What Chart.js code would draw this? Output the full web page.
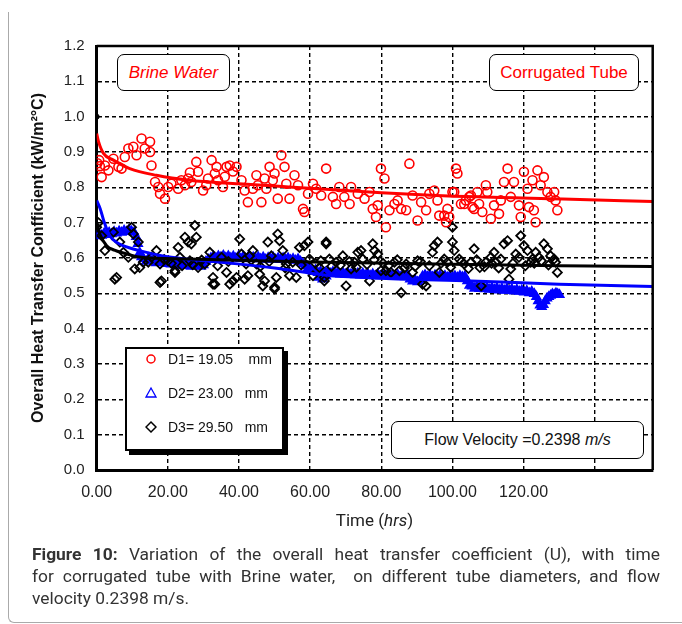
<!DOCTYPE html>
<html>
<head>
<meta charset="utf-8">
<script src="https://cdn.jsdelivr.net/npm/chart.js@4.4.1/dist/chart.umd.min.js"></script>
<style>
  html, body { margin:0; padding:0; background:#fff; }
  #wrap { position:relative; width:682px; height:624px; overflow:hidden; font-family:"Liberation Sans", Arial, sans-serif; }
  canvas { position:absolute; left:0; top:0; }
  .box { position:absolute; background:#fff; border:1.5px solid #000; border-radius:7px; box-sizing:border-box; display:flex; align-items:center; justify-content:center; white-space:nowrap; }
  #frame { position:absolute; left:8px; top:12px; width:760px; height:610px; border-left:1px solid #aaa; border-bottom:1px solid #aaa; border-bottom-left-radius:6px; }
  #legend { position:absolute; left:125px; top:347px; width:159px; height:104px; background:#fff; border:2px solid #000; box-sizing:border-box; box-shadow:4px 4px 0 #000; font-size:14px; color:#111; }
  .lg { position:absolute; left:0; width:100%; height:18px; }
  .lg svg { position:absolute; left:18px; top:1px; }
  .lg span { position:absolute; left:41px; top:0; white-space:pre; }
  #xtitle { position:absolute; left:0; width:749px; top:510px; text-align:center; font-family:Roboto,sans-serif; font-size:17px; color:#222; }
  .cap { position:absolute; left:32px; width:628px; font-family:Roboto,sans-serif; font-size:17.4px; color:#333; text-align:justify; text-align-last:justify; white-space:nowrap; }
</style>
</head>
<body>
<div id="wrap">
  <div id="frame"></div>
  <canvas id="c" width="682" height="624"></canvas>
  <div class="box" style="left:117px;top:54px;width:113px;height:37px;color:#f00;font-style:italic;font-size:17px;">Brine Water</div>
  <div class="box" style="left:489px;top:54px;width:150px;height:37px;color:#f00;font-size:17px;">Corrugated Tube</div>
  <div class="box" style="left:391px;top:421px;width:253px;height:38px;color:#111;font-size:16px;">Flow Velocity =0.2398&nbsp;<i>m/s</i></div>
  <div id="legend">
    <div class="lg" style="top:2px"><svg width="12" height="14"><circle cx="6" cy="7" r="4" fill="none" stroke="#f00" stroke-width="1.5"/></svg><span>D1= 19.05    mm</span></div>
    <div class="lg" style="top:36px"><svg width="12" height="14"><polygon points="6,2 11,11 1,11" fill="none" stroke="#00f" stroke-width="1.3"/></svg><span>D2= 23.00   mm</span></div>
    <div class="lg" style="top:70px"><svg width="12" height="14"><polygon points="6,2 11,7 6,12 1,7" fill="none" stroke="#000" stroke-width="1.5"/></svg><span>D3= 29.50   mm</span></div>
  </div>
  <div id="xtitle">Time (<i>hrs</i>)</div>
  <div class="cap" style="top:544px"><b>Figure 10:</b> Variation of the overall heat transfer coefficient (U), with time</div>
  <div class="cap" style="top:566px">for corrugated tube with Brine water,&nbsp; on different tube diameters, and flow</div>
  <div class="cap" style="top:588px;text-align-last:left;">velocity 0.2398 m/s.</div>
</div>
<script>
// ---------- DATA (time in hrs, U in kW/m2°C) ----------
const xTickValues = [0, 20, 40, 60, 80, 100, 120];
const yTickStep = 0.1;

// D1 = 19.05 mm (red circles)
const d1Points = [
[0.2,0.868],[0.7,0.877],[0.9,0.860],[1.4,0.829],[2.3,0.862],[3.3,0.848],[4.7,0.881],[6.1,0.858],[7.0,0.853],[7.9,0.886],
[8.9,0.910],[10.3,0.915],[11.2,0.891],[12.6,0.938],[13.5,0.910],[15.0,0.929],[15.0,0.900],[15.4,0.862],[16.4,0.815],[17.3,0.801],
[17.8,0.782],[19.2,0.768],[20.1,0.801],[21.0,0.810],[22.9,0.796],[23.8,0.820],[24.8,0.806],[25.7,0.825],[26.2,0.842],[26.6,0.815],
[28.0,0.872],[28.5,0.844],[29.9,0.791],[30.8,0.806],[31.3,0.825],[32.3,0.877],[33.2,0.839],[33.7,0.858],[34.1,0.820],[35.5,0.801],
[36.0,0.830],[36.5,0.858],[37.4,0.862],[38.3,0.845],[39.3,0.858],[40.7,0.820],[41.6,0.791],[42.5,0.758],[43.9,0.796],[44.9,0.834],
[45.3,0.806],[46.3,0.758],[47.2,0.825],[47.7,0.796],[48.6,0.858],[49.5,0.820],[50.0,0.839],[50.9,0.768],[51.9,0.891],[52.8,0.858],
[53.3,0.810],[54.2,0.768],[55.6,0.834],[56.6,0.806],[58.0,0.739],[58.4,0.730],[59.4,0.782],[60.8,0.810],[61.7,0.796],[63.1,0.777],
[64.5,0.853],[66.4,0.773],[67.3,0.753],[68.2,0.801],[69.6,0.773],[71.1,0.753],[71.5,0.801],[73.4,0.782],[75.3,0.768],[76.7,0.787],
[77.6,0.739],[78.5,0.716],[79.0,0.749],[79.9,0.853],[80.9,0.825],[81.3,0.687],[82.3,0.735],[83.7,0.753],[84.6,0.763],[85.6,0.739],
[87.0,0.735],[87.9,0.867],[88.8,0.777],[90.2,0.706],[91.2,0.758],[92.6,0.735],[93.5,0.782],[94.9,0.791],[95.8,0.763],[96.3,0.720],
[97.7,0.720],[98.2,0.701],[98.6,0.739],[99.1,0.716],[100.0,0.787],[100.5,0.787],[101.0,0.853],[101.4,0.839],[102.4,0.753],[103.3,0.753],
[103.8,0.763],[104.7,0.773],[105.2,0.777],[105.6,0.744],[106.1,0.739],[107.0,0.787],[107.5,0.753],[108.4,0.730],[109.4,0.806],[109.8,0.787],
[110.8,0.711],[111.7,0.749],[113.1,0.725],[113.6,0.763],[114.5,0.815],[115.5,0.853],[116.4,0.773],[117.3,0.815],[118.7,0.749],[119.2,0.716],
[120.1,0.844],[121.1,0.796],[121.5,0.744],[122.5,0.820],[122.9,0.735],[123.4,0.701],[123.9,0.848],[124.8,0.806],[125.7,0.829],[126.7,0.787],
[127.6,0.773],[128.6,0.787],[129.0,0.763],[129.5,0.735]
];

// D2 = 23.00 mm (blue triangles, dense band)
const d2Points = [
[0,0.662],[0.7,0.668],[1.4,0.664],[2.1,0.670],[2.8,0.666],[3.5,0.672],[4.2,0.668],[4.9,0.674],[5.6,0.670],[6.3,0.676],
[7,0.672],[7.7,0.678],[8.4,0.674],[9.1,0.680],[9.8,0.676],[10.5,0.672],[11.1,0.660],[11.6,0.640],[12.1,0.615],[12.6,0.603],
[13.2,0.598],[13.9,0.590],[14.6,0.600],[15.3,0.592],[16,0.596],[16.7,0.586],[17.4,0.594],[18.1,0.588],[18.8,0.592],[19.5,0.584],
[20.2,0.590],[20.9,0.582],[21.6,0.588],[22.3,0.580],[23,0.586],[23.7,0.578],[24.4,0.584],[25.1,0.578],[25.8,0.583],[26.5,0.576],
[27.2,0.582],[27.9,0.577],[28.6,0.581],[29.3,0.576],[30,0.580],[30.7,0.590],[31.4,0.596],[32.1,0.600],[32.8,0.604],[33.5,0.600],
[34.2,0.606],[34.9,0.602],[35.6,0.607],[36.3,0.601],[37,0.606],[37.7,0.600],[38.4,0.605],[39.1,0.599],[39.8,0.604],[40.5,0.598],
[41.2,0.604],[41.9,0.598],[42.6,0.603],[43.3,0.597],[44,0.602],[44.7,0.598],[45.4,0.603],[46.1,0.597],[46.8,0.602],[47.5,0.596],
[48.2,0.601],[48.9,0.597],[49.6,0.602],[50.3,0.596],[51,0.600],[51.7,0.595],[52.4,0.600],[53.1,0.596],[53.8,0.600],[54.5,0.594],
[55.2,0.598],[55.9,0.593],[56.6,0.597],[57.3,0.590],[58,0.584],[58.7,0.578],[59.4,0.572],[60.1,0.568],[60.8,0.562],[61.5,0.566],
[62.2,0.558],[62.5,0.545],[62.9,0.562],[63.5,0.540],[63.6,0.556],[64.3,0.560],[64.5,0.548],[65,0.562],[65.7,0.556],[66.4,0.561],
[67.1,0.555],[67.8,0.560],[68.5,0.554],[69.2,0.559],[69.9,0.553],[70.6,0.558],[71.3,0.553],[72,0.558],[72.7,0.552],[73.4,0.557],
[74.1,0.551],[74.8,0.557],[75.5,0.551],[76.2,0.556],[76.9,0.550],[77.6,0.555],[78.3,0.550],[79,0.555],[79.7,0.549],[80.4,0.554],
[81.1,0.549],[81.8,0.554],[82.5,0.548],[83.2,0.553],[83.9,0.548],[84.6,0.553],[85.3,0.547],[86,0.552],[86.7,0.546],[87.4,0.552],
[88.1,0.540],[88.8,0.534],[89.5,0.538],[90.2,0.532],[90.9,0.536],[91.6,0.548],[92.3,0.552],[93,0.547],[93.7,0.552],[94.4,0.546],
[95.1,0.551],[95.8,0.546],[96.5,0.551],[97.2,0.545],[97.9,0.550],[98.6,0.545],[99.3,0.550],[100,0.544],[100.7,0.549],[101.4,0.545],
[102.1,0.550],[102.8,0.546],[103.5,0.548],[104.2,0.535],[104.8,0.522],[105.5,0.520],[106.2,0.514],[106.9,0.519],[107.6,0.513],[108.3,0.518],
[109,0.512],[109.7,0.517],[110.4,0.511],[111.1,0.516],[111.8,0.510],[112.5,0.515],[113.2,0.509],[113.9,0.514],[114.6,0.508],[115.3,0.513],
[116,0.507],[116.7,0.512],[117.4,0.506],[118.1,0.511],[118.8,0.505],[119.5,0.509],[120.2,0.503],[120.9,0.507],[121.6,0.501],[122.3,0.505],
[123,0.499],[123.6,0.490],[124.1,0.478],[124.6,0.466],[125.1,0.462],[125.6,0.468],[126.1,0.478],[126.6,0.486],[127.1,0.490],[127.6,0.494],
[128.1,0.498],[128.6,0.496],[129.1,0.500],[129.6,0.498],[130.1,0.496]
];

// D3 = 29.50 mm (black diamonds)
const d3Points = [
[0,0.687],[0.5,0.700],[1.4,0.663],[2.3,0.621],[4.7,0.673],[5.1,0.540],[5.6,0.545],[6.5,0.645],[7.5,0.616],[8.9,0.602],
[9.8,0.687],[10.3,0.668],[10.7,0.569],[11.7,0.645],[12.1,0.573],[13.1,0.588],[14.5,0.588],[15.4,0.602],[16.8,0.621],[17.8,0.583],
[17.8,0.531],[18.2,0.535],[19,0.596],[20.1,0.592],[21,0.585],[22.0,0.564],[22.0,0.559],[22.9,0.630],[23.4,0.602],[24,0.578],
[24.8,0.659],[25.7,0.645],[26.2,0.592],[26.6,0.640],[27,0.581],[27.6,0.692],[28.0,0.659],[28.5,0.573],[29.5,0.594],[30.4,0.583],
[31.8,0.616],[32.7,0.545],[32.7,0.526],[33.2,0.526],[34,0.578],[35.1,0.602],[36.5,0.559],[37,0.590],[37.4,0.526],[38.3,0.535],
[39.3,0.545],[40.2,0.654],[40.7,0.611],[41.6,0.540],[42,0.583],[42.5,0.550],[43.0,0.606],[43.9,0.621],[44.9,0.583],[45.8,0.554],
[46,0.576],[46.7,0.521],[47.2,0.535],[48.1,0.645],[48.5,0.590],[49.1,0.606],[50.0,0.512],[50.0,0.517],[50.5,0.545],[50.9,0.668],
[51.4,0.649],[52.3,0.621],[53,0.572],[53.3,0.583],[54.2,0.550],[55.1,0.588],[56.1,0.545],[57.0,0.630],[57.5,0.580],[58.4,0.635],
[59.4,0.645],[59.8,0.597],[60.8,0.550],[61.5,0.585],[62.6,0.573],[63,0.592],[64.0,0.545],[64.0,0.535],[64.5,0.640],[64.5,0.645],
[65.4,0.597],[66,0.576],[67.3,0.588],[68.5,0.580],[69.2,0.606],[70.1,0.521],[71,0.590],[71.5,0.569],[72.5,0.588],[73,0.574],
[73.4,0.616],[74.3,0.621],[74.8,0.597],[76,0.582],[76.7,0.535],[77.6,0.640],[78,0.595],[78.1,0.621],[79.0,0.611],[79.9,0.564],
[80.5,0.585],[81.3,0.564],[82,0.578],[82.7,0.559],[83.7,0.588],[84.5,0.595],[85.1,0.564],[85.6,0.502],[86.5,0.572],[87.0,0.583],
[88.8,0.559],[89.5,0.576],[90.2,0.592],[91,0.590],[91.6,0.526],[92.6,0.521],[93.5,0.578],[94.4,0.616],[94.9,0.635],[95.8,0.645],
[96.3,0.559],[96.8,0.585],[97.7,0.597],[98.6,0.588],[99.5,0.574],[100.0,0.687],[100.0,0.645],[100.5,0.621],[101.9,0.597],[102.5,0.590],
[103.3,0.583],[104.5,0.570],[105.2,0.588],[106.1,0.626],[106.8,0.595],[107.7,0.573],[108.1,0.521],[109,0.575],[109.4,0.588],[110.8,0.602],
[111,0.585],[111.7,0.616],[112.2,0.588],[113,0.572],[113.6,0.597],[114.5,0.640],[115.5,0.649],[115.9,0.540],[116.4,0.569],[117,0.585],
[117.8,0.611],[118.7,0.602],[119.2,0.663],[120.1,0.635],[120.5,0.578],[121.1,0.621],[122.0,0.588],[122.5,0.597],[123,0.585],[123.4,0.616],
[124.3,0.602],[125,0.592],[125.7,0.640],[126.7,0.626],[127,0.580],[127.6,0.606],[128.6,0.597],[129,0.588],[129.5,0.559]
];
const d3StartPoint = [[0,1.0]];

// Fitted trend lines
const d1Trend = [[0,0.952],[0.5,0.930],[1.9,0.896],[4.7,0.877],[9.3,0.853],[16.8,0.834],[26,0.820],[40,0.810],[54,0.801],[80,0.785],[107,0.773],[131,0.767],[156.3,0.760]];
const d2Trend = [[0,0.763],[1,0.739],[2,0.705],[3.7,0.663],[5.5,0.645],[7.4,0.635],[12,0.621],[21,0.602],[35,0.588],[50,0.572],[64,0.552],[80,0.543],[105,0.535],[130,0.526],[156.3,0.519]];
const d3Trend = [[0,0.695],[1,0.665],[2.8,0.635],[5,0.622],[7.5,0.614],[12,0.603],[26,0.597],[45,0.592],[65,0.588],[100,0.582],[130,0.578],[156.3,0.576]];

// ---------- CHART ----------
const toXY = arr => arr.map(p => ({x:p[0], y:p[1]}));
const RED = 'rgb(255,0,0)', BLUE = 'rgb(0,0,255)', BLACK = '#000';

const framePlugin = {
  id: 'frame',
  afterDatasetsDraw(chart) {
    const {ctx, chartArea: a} = chart;
    ctx.save();
    ctx.strokeStyle = '#000';
    ctx.lineWidth = 2.5;
    ctx.beginPath();
    ctx.moveTo(a.left, a.top); ctx.lineTo(a.right, a.top); ctx.lineTo(a.right, a.bottom);
    ctx.stroke();
    ctx.restore();
  }
};

const lineDs = (data, color, w) => ({
  data: toXY(data), showLine: true, borderColor: color, borderWidth: w,
  pointRadius: 0, fill: false, cubicInterpolationMode: 'monotone'
});

new Chart(document.getElementById('c'), {
  type: 'scatter',
  data: {
    datasets: [
      lineDs(d1Trend, RED, 3),
      lineDs(d3Trend, BLACK, 3),
      lineDs(d2Trend, BLUE, 3),
      { data: toXY(d3StartPoint), pointStyle:'circle', pointRadius:2.5, backgroundColor:BLACK, borderColor:BLACK, borderWidth:1 },
      { data: toXY(d1Points), pointStyle:'circle', pointRadius:4.5, borderWidth:1.6, borderColor:RED, backgroundColor:'rgba(0,0,0,0)' },
      { data: toXY(d3Points), pointStyle:'rectRot', pointRadius:4.5, borderWidth:1.8, borderColor:BLACK, backgroundColor:'rgba(0,0,0,0)' },
      { data: toXY(d2Points), pointStyle:'triangle', pointRadius:4.5, borderWidth:2, borderColor:BLUE, backgroundColor:BLUE }
    ]
  },
  options: {
    responsive: false, animation: false, devicePixelRatio: 1,
    layout: { padding: { top: 46, right: 29.3, bottom: 114, left: 0 } },
    plugins: { legend: { display:false }, tooltip: { enabled:false } },
    scales: {
      x: {
        type:'linear', min:0, max:156.3,
        afterBuildTicks: s => { s.ticks = [0,20,40,60,80,100,120,140].map(v => ({value:v})); },
        ticks: { callback: v => xTickValues.includes(v) ? v.toFixed(2) : '', font:{ size:16, family:'"Liberation Sans", Arial' }, color:'#222', padding:13, maxRotation:0, autoSkip:false },
        grid: { color:'#000', lineWidth:1.4, drawTicks:false },
        border: { display:true, color:'#000', width:3, dash:[4,3] },
        afterFit: s => { s.height = 40; }
      },
      y: {
        type:'linear', min:0, max:1.2,
        ticks: { stepSize: yTickStep, callback: v => v.toFixed(1), font:{ size:15, family:'"Liberation Sans", Arial' }, color:'#222', padding:12 },
        grid: { color:'#000', lineWidth:1.4, drawTicks:false },
        border: { display:true, color:'#000', width:3, dash:[4,3] },
        title: { display:true, text:'Overall Heat Transfer Confficient (kW/m²°C)', color:'#111', font:{ size:16, weight:'bold', family:'"Liberation Sans", Arial' }, padding:{ top:29, bottom:0 } },
        afterFit: s => { s.width = 96.7; }
      }
    }
  },
  plugins: [framePlugin]
});
</script>
</body>
</html>
